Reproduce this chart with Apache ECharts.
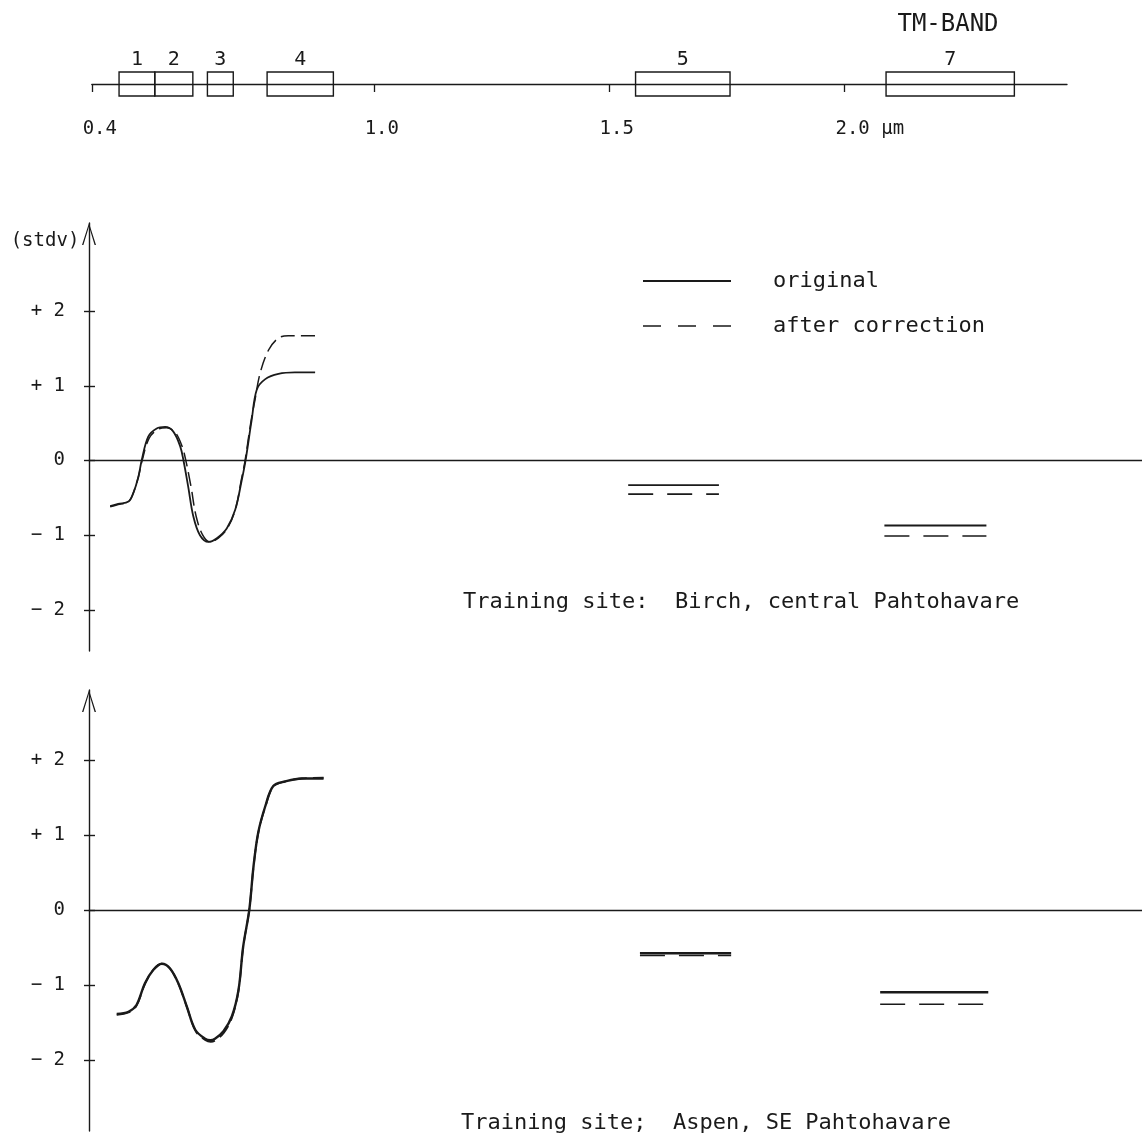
<!DOCTYPE html>
<html>
<head>
<meta charset="utf-8">
<script src="https://cdn.jsdelivr.net/npm/echarts@6/dist/echarts.min.js"></script>
<style>html,body{margin:0;padding:0;background:#fff}#c{width:1142px;height:1138px}</style>
</head>
<body>
<div id="c"></div>
<script>
// ---- TM band positions (µm) ----
const bandNames = ['1', '2', '3', '4', '5', '7'];
const bandStart = [0.458, 0.534, 0.646, 0.773, 1.557, 2.090];
const bandEnd   = [0.534, 0.615, 0.701, 0.914, 1.758, 2.363];
const wlTicks = [0.4, 1.0, 1.5, 2.0];
const stdvTicks = [-2, -1, 0, 1, 2];

// ---- Panel 1: Birch, central Pahtohavare ----
const p1OrigW = [0.439,0.456,0.478,0.488,0.499,0.506,0.520,0.538,0.556,0.573,0.588,0.595,0.605,0.616,0.630,0.648,0.666,0.687,0.705,0.719,0.727,0.740,0.751,0.769,0.797,0.832,0.875];
const p1Orig  = [-0.61,-0.58,-0.55,-0.44,-0.22,0,0.32,0.43,0.45,0.39,0.19,0,-0.35,-0.75,-1.0,-1.09,-1.04,-0.91,-0.66,-0.26,0,0.54,0.95,1.09,1.16,1.18,1.18];
const p1CorrW = [0.439,0.456,0.478,0.488,0.499,0.507,0.522,0.541,0.559,0.577,0.592,0.600,0.611,0.622,0.636,0.651,0.669,0.689,0.706,0.718,0.726,0.738,0.747,0.758,0.776,0.797,0.818,0.875];
const p1Corr  = [-0.62,-0.59,-0.55,-0.44,-0.22,0,0.30,0.42,0.44,0.38,0.19,0,-0.35,-0.75,-1.0,-1.09,-1.04,-0.90,-0.64,-0.26,0,0.50,0.81,1.17,1.48,1.64,1.67,1.67];
const p1SegStart = [1.541, 2.086];
const p1SegEnd   = [1.734, 2.303];
const p1SegOrig  = [-0.33, -0.87];
const p1SegCorr  = [-0.45, -1.01];

// ---- Panel 2: Aspen, SE Pahtohavare ----
const p2OrigW = [0.453,0.478,0.495,0.513,0.531,0.549,0.566,0.584,0.602,0.620,0.641,0.652,0.662,0.680,0.698,0.712,0.722,0.735,0.744,0.754,0.769,0.786,0.811,0.847,0.893];
const p2Orig  = [-1.39,-1.36,-1.27,-0.98,-0.80,-0.72,-0.78,-0.98,-1.29,-1.60,-1.72,-1.74,-1.72,-1.62,-1.42,-1.07,-0.49,0,0.58,1.03,1.38,1.65,1.71,1.75,1.75];
const p2CorrW = [0.453,0.478,0.495,0.513,0.531,0.549,0.567,0.585,0.603,0.621,0.642,0.653,0.663,0.681,0.698,0.712,0.722,0.735,0.744,0.754,0.769,0.786,0.811,0.847,0.893];
const p2Corr  = [-1.40,-1.37,-1.28,-0.99,-0.80,-0.72,-0.79,-1.00,-1.31,-1.62,-1.74,-1.76,-1.74,-1.64,-1.44,-1.08,-0.50,0,0.57,1.02,1.37,1.64,1.71,1.75,1.76];
const p2SegStart = [1.566, 2.077];
const p2SegEnd   = [1.760, 2.307];
const p2SegOrig  = [-0.58, -1.10];
const p2SegCorr  = [-0.61, -1.26];

// ---- styling ----
const INK = '#1a1a1a';
const FONT = '"DejaVu Sans Mono", monospace';
const ARROW = 'path://M7,0 L14,22 L12.6,22 L7,3.6 L1.4,22 L0,22 Z';
const SOLID = { color: INK, width: 1.8, type: 'solid' };
const DASH = { color: INK, width: 1.5, type: [14, 6] };
const SEG_DASH = { color: INK, width: 1.6, type: [25, 14] };
const SMOOTH = 0.35;

const zip = (xs, ys) => xs.map((x, i) => [x, ys[i]]);

function yAxes(gridIndex, min, max) {
  return [
    {
      type: 'value', gridIndex, min, max, position: 'left',
      axisLine: { show: true, lineStyle: { color: INK, width: 1.4 },
        symbol: ['none', ARROW], symbolSize: [14, 22], symbolOffset: [0, -11] },
      axisTick: { show: true, length: 5, lineStyle: { color: INK, width: 1.4 }, customValues: stdvTicks },
      axisLabel: { show: true, margin: 24, color: INK, fontFamily: FONT, fontSize: 19,
        customValues: stdvTicks,
        formatter: v => v > 0 ? '+ ' + v : (v < 0 ? '\u2212 ' + (-v) : '0') },
      splitLine: { show: false }
    },
    {
      type: 'value', gridIndex, min, max, position: 'left',
      axisLine: { show: false },
      axisTick: { show: true, inside: true, length: 6, lineStyle: { color: INK, width: 1.4 }, customValues: stdvTicks },
      axisLabel: { show: false },
      splitLine: { show: false }
    }
  ];
}

function panelX(gridIndex) {
  return {
    type: 'value', gridIndex, min: 0.394, max: 2.634,
    axisLine: { show: true, onZero: true, lineStyle: { color: INK, width: 1.3 } },
    axisTick: { show: false }, axisLabel: { show: false }, splitLine: { show: false }
  };
}

function segSeries(name, starts, ends, vals, xi, yi, style) {
  return starts.map((s, i) => ({
    name, type: 'line', xAxisIndex: xi, yAxisIndex: yi, symbol: 'none',
    lineStyle: style, data: [[s, vals[i]], [ends[i], vals[i]]], z: 3
  }));
}

const option = {
  animation: false,
  backgroundColor: '#fff',
  grid: [
    { left: 91.8, top: 72, width: 975.2, height: 24, containLabel: false, outerBoundsMode: 'none' },
    { left: 89, top: 223, width: 1053, height: 428, containLabel: false, outerBoundsMode: 'none' },
    { left: 89, top: 690, width: 1053, height: 441, containLabel: false, outerBoundsMode: 'none' }
  ],
  xAxis: [
    {
      type: 'value', gridIndex: 0, min: 0.4, max: 2.475,
      axisLine: { show: true, onZero: true, lineStyle: { color: INK, width: 1.3 } },
      axisTick: { show: true, length: 8, lineStyle: { color: INK, width: 1.3 }, customValues: wlTicks },
      axisLabel: {
        show: true, margin: 24, color: INK, fontFamily: FONT, fontSize: 19, padding: [0, 0, 0, 16],
        customValues: wlTicks,
        formatter: v => v === 2 ? '{pad|}2.0 \u00b5m' : v.toFixed(1),
        rich: { pad: { width: 36 } }
      },
      splitLine: { show: false }
    },
    panelX(1),
    panelX(2)
  ],
  yAxis: [
    { type: 'value', gridIndex: 0, min: -1, max: 1, show: false },
    ...yAxes(1, -2.55, 3.18),
    ...yAxes(2, -2.95, 2.93)
  ],
  legend: {
    orient: 'vertical', left: 642, top: 270, padding: 0, itemWidth: 88, itemHeight: 14, itemGap: 23,
    itemStyle: { opacity: 0 },
    textStyle: { color: INK, fontFamily: FONT, fontSize: 22, padding: [0, 0, 0, 37] },
    data: [
      { name: 'original', lineStyle: { width: 2, type: 'solid' } },
      { name: 'after correction', lineStyle: { width: 1.5, type: [18, 17] } }
    ]
  },
  graphic: [
    { type: 'text', x: 948, y: 25, style: { text: 'TM-BAND', font: '24px ' + FONT, fill: INK, textAlign: 'center', textVerticalAlign: 'middle' } },
    { type: 'text', x: 45, y: 241, style: { text: '(stdv)', font: '19px ' + FONT, fill: INK, textAlign: 'center', textVerticalAlign: 'middle' } },
    { type: 'text', x: 463, y: 602, style: { text: 'Training site:  Birch, central Pahtohavare', font: '22px ' + FONT, fill: INK, textAlign: 'left', textVerticalAlign: 'middle' } },
    { type: 'text', x: 461, y: 1123, style: { text: 'Training site;  Aspen, SE Pahtohavare', font: '22px ' + FONT, fill: INK, textAlign: 'left', textVerticalAlign: 'middle' } }
  ],
  series: [
    {
      name: 'TM bands', type: 'custom', xAxisIndex: 0, yAxisIndex: 0, clip: false,
      encode: { x: [0, 1] },
      data: bandStart.map((s, i) => [s, bandEnd[i]]),
      renderItem: function (params, api) {
        const p0 = api.coord([api.value(0), 1]);
        const p1 = api.coord([api.value(1), -1]);
        return {
          type: 'group', children: [
            { type: 'rect', shape: { x: p0[0], y: p0[1], width: p1[0] - p0[0], height: p1[1] - p0[1] },
              style: { fill: 'none', stroke: INK, lineWidth: 1.4 } },
            { type: 'text', style: { text: bandNames[params.dataIndex], x: (p0[0] + p1[0]) / 2, y: p0[1] - 12,
              textAlign: 'center', textVerticalAlign: 'middle', font: '20px ' + FONT, fill: INK } }
          ]
        };
      }
    },
    { name: 'original', type: 'line', xAxisIndex: 1, yAxisIndex: 1, symbol: 'none', smooth: SMOOTH,
      lineStyle: SOLID, data: zip(p1OrigW, p1Orig), z: 3 },
    { name: 'after correction', type: 'line', xAxisIndex: 1, yAxisIndex: 1, symbol: 'none', smooth: SMOOTH,
      lineStyle: DASH, data: zip(p1CorrW, p1Corr), z: 3 },
    ...segSeries('original', p1SegStart, p1SegEnd, p1SegOrig, 1, 1, SOLID),
    ...segSeries('after correction', p1SegStart, p1SegEnd, p1SegCorr, 1, 1, SEG_DASH),
    { name: 'original', type: 'line', xAxisIndex: 2, yAxisIndex: 3, symbol: 'none', smooth: SMOOTH,
      lineStyle: { color: INK, width: 2.4 }, data: zip(p2OrigW, p2Orig), z: 3 },
    { name: 'after correction', type: 'line', xAxisIndex: 2, yAxisIndex: 3, symbol: 'none', smooth: SMOOTH,
      lineStyle: { color: INK, width: 1.8, type: [14, 6] }, data: zip(p2CorrW, p2Corr), z: 3 },
    ...segSeries('original', p2SegStart, p2SegEnd, p2SegOrig, 2, 3, { color: INK, width: 2.4 }),
    ...segSeries('after correction', p2SegStart, p2SegEnd, p2SegCorr, 2, 3, SEG_DASH)
  ]
};

const chart = echarts.init(document.getElementById('c'), null, { renderer: 'canvas' });
chart.setOption(option);
</script>
</body>
</html>
